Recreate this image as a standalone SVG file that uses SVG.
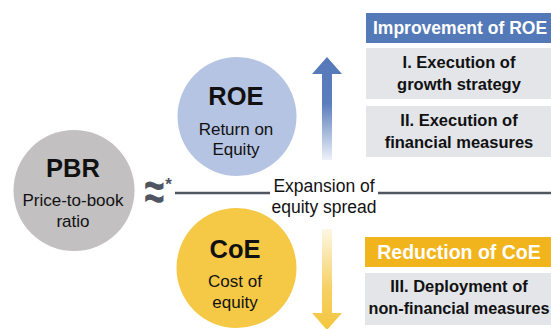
<svg xmlns="http://www.w3.org/2000/svg" width="551" height="329" viewBox="0 0 551 329">
<defs>
<style>
text{font-family:"Liberation Sans",Arial,sans-serif;fill:#111;}
.big{font-size:25.5px;font-weight:bold;text-anchor:middle;}
.sub{font-size:17px;text-anchor:middle;}
.hdr{font-size:17.5px;font-weight:bold;fill:#fff;}
.box{fill:#e3e5e9;}
.bt{font-size:16.5px;font-weight:bold;text-anchor:middle;}
.ln{stroke:#4f5561;stroke-width:2.5;fill:none;}
.sym{fill:#4f5561;text-anchor:middle;}
</style>
<linearGradient id="gUp" x1="0" y1="57" x2="0" y2="160" gradientUnits="userSpaceOnUse">
<stop offset="0" stop-color="#5679ba"/>
<stop offset="0.45" stop-color="#5a7dbc"/>
<stop offset="1" stop-color="#edf1f8"/>
</linearGradient>
<linearGradient id="gDn" x1="0" y1="229" x2="0" y2="329" gradientUnits="userSpaceOnUse">
<stop offset="0" stop-color="#fdf7e4"/>
<stop offset="0.6" stop-color="#f6d064"/>
<stop offset="1" stop-color="#f4c63e"/>
</linearGradient>
</defs>

<g id="connectors">
<line class="ln" x1="175" y1="193" x2="270" y2="193"/>
<line class="ln" x1="378" y1="193" x2="551" y2="193"/>
<path id="arrow-up" d="M322,160 L322,74 L312,74 L327,57 L342,74 L332,74 L332,160 Z" fill="url(#gUp)"/>
<path id="arrow-down" d="M322,229 L332,229 L332,313 L342,313 L327,330 L312,313 L322,313 Z" fill="url(#gDn)"/>
</g>

<g id="pbr">
<circle cx="74" cy="190.5" r="60.5" fill="#c3c0c1"/>
<text class="big" x="73" y="177">PBR</text>
<text class="sub" x="73" y="206">Price-to-book</text>
<text class="sub" x="73" y="227">ratio</text>
</g>

<g id="approx">
<text class="sym" transform="translate(154.5,210) scale(1,1.5)" x="0" y="0" style="font-size:36px;font-weight:bold;">≈</text>
<text class="sym" x="168.5" y="190" style="font-size:17px;font-weight:bold;">*</text>
</g>

<g id="roe">
<circle cx="237" cy="116.5" r="59.5" fill="#b6c4e4"/>
<text class="big" x="236" y="105">ROE</text>
<text class="sub" x="236" y="135">Return on</text>
<text class="sub" x="236" y="155">Equity</text>
</g>

<g id="spread">
<text class="sub" x="324" y="192" style="font-size:17.5px">Expansion of</text>
<text class="sub" x="324" y="213" style="font-size:17.5px">equity spread</text>
</g>

<g id="coe">
<circle cx="236.5" cy="268" r="60" fill="#f5c945"/>
<text class="big" x="235" y="258">CoE</text>
<text class="sub" x="235" y="287">Cost of</text>
<text class="sub" x="235" y="308">equity</text>
</g>

<g id="improve-roe">
<rect x="366" y="13" width="185" height="30" fill="#5479b8"/>
<text class="hdr" x="373" y="34">Improvement of ROE</text>
</g>

<g id="growth">
<rect class="box" x="366" y="48" width="185" height="51"/>
<text class="bt" x="459" y="68">I. Execution of</text>
<text class="bt" x="459" y="90">growth strategy</text>
</g>

<g id="financial">
<rect class="box" x="366" y="106" width="185" height="51"/>
<text class="bt" x="459" y="126">II. Execution of</text>
<text class="bt" x="459" y="148">financial measures</text>
</g>

<g id="reduce-coe">
<rect x="365" y="237" width="186" height="30" fill="#f2b41c"/>
<text class="hdr" x="459" y="259" style="text-anchor:middle;font-size:19.5px">Reduction of CoE</text>
</g>

<g id="nonfinancial">
<rect class="box" x="365" y="273" width="186" height="52"/>
<text class="bt" x="459" y="292">III. Deployment of</text>
<text class="bt" x="459" y="314" style="font-size:16.2px">non-financial measures</text>
</g>
</svg>
